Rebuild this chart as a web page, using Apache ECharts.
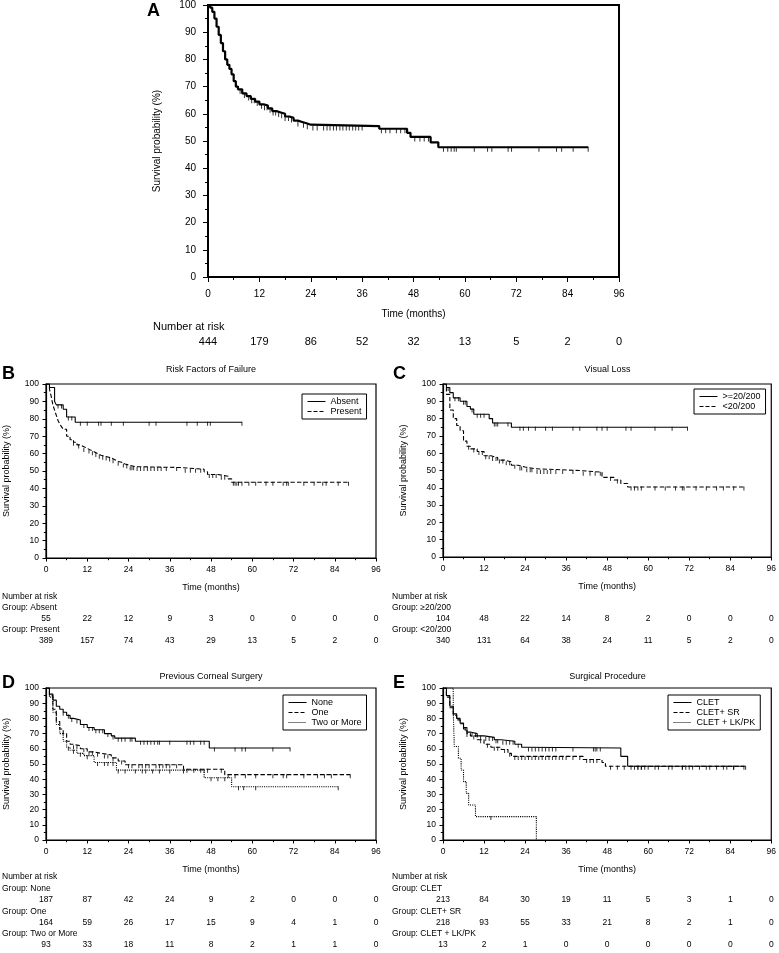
<!DOCTYPE html>
<html><head><meta charset="utf-8">
<script src="https://cdn.jsdelivr.net/npm/echarts@6/dist/echarts.min.js"></script>
<style>html,body{margin:0;padding:0;background:#fff}#c{width:779px;height:953px}</style>
</head><body><div id="c"></div>
<script>
// ---------- data ----------
const riskTimes = [0,12,24,36,48,60,72,84,96];

// Panel A: overall
const aT = [0,0.5,1,1.5,2,2.5,3,3.5,4,4.5,5,5.5,6,6.5,7,8,9,10,11,12,13,14,15,16,17,18,19,20,21,22,23,24,40,46.5,47.3,52,53.8,88.8];
const aS = [100,99,97.5,95,92,89,86,83,80,78,76.5,74.5,72,70,69,67.5,66.5,65.5,64.5,63.5,63,62,61,60.5,60,59,58.5,57.5,57,56.5,56,55.5,54.5,53,51.5,49.5,47.7,47.7];
const aC = [7.5,8.5,9.5,10.2,10.8,11.5,12.5,13.2,13.8,14.5,15.2,15.8,16.5,17.2,18,18.8,19.5,21,22.3,23.2,24.5,25.5,27,27.8,28.5,29.3,30,30.8,31.5,32.3,33,33.8,34.5,35.2,36,40.5,41.5,42.5,44,45,46,48.3,49.5,50.5,51.5,55,56,56.8,57.5,58,62.2,65.3,66.3,70.1,70.9,77.3,81.4,82.6,85.3,88.8];
const riskA = [444,179,86,52,32,13,5,2,0];

// Panel B: risk factors of failure
const bAbsT = [0,1,2.5,3,5,6,8.5,57];
const bAbsS = [100,98,90,88,85.5,81,78,78];
const bAbsC = [3.5,4.5,6.5,7.5,10,12,15.3,16,19,22.5,30,32,41,44,47,47.8,57];
const bPreT = [0,1,1.5,2,2.5,3,3.5,4,4.5,5,6,7,8,9,10,11,12,13,14,15,16,17,18,19,20,21,22,23,24,26,39,46,47,50,53,54,88];
const bPreS = [100,97,93,88,85,82,79,77,75.5,74,70,68,66.5,65,64,63,62,61,60,59,58.5,58,57.5,56.5,55.5,55,54,53.5,52.5,52,51,49.5,48,47,45.5,43.5,43.5];
const bPreC = [8,9.5,11,12.5,13.5,14.5,15.5,16.5,17.5,18.5,19.5,21,22.5,23.5,24.5,25,25.5,26.5,27.5,28.5,29.5,30.5,31.5,32.5,33.5,35,38,40.5,42,43.5,45,47.5,48.5,49.5,51,52,54.5,55,55.5,56,57,59,61,64,66,69,70,70.5,75,78,80.5,81.5,85,88];
const riskBAbs = [55,22,12,9,3,0,0,0,0];
const riskBPre = [389,157,74,43,29,13,5,2,0];

// Panel C: visual loss
const cHiT = [0,1,2,3,5,7,8,9,13.5,14.5,20,71.5];
const cHiS = [100,98,95,92,90,87,85.5,82.5,80,77.5,75,75];
const cHiC = [1.5,3.5,4.5,6,6.5,8.5,10,11,12,15,15.5,16,19,22.5,23.5,25,27,30,32,38,40,45,46.5,48,53.5,55,62,67,71.5];
const cLoT = [0,1,2,3,4,5,6,7,8,10,12,14,16,18,20,22,24,27,40,46.5,50,52,54,88];
const cLoS = [100,94,85,80,76,73,67,64,62.5,61,58.5,57.5,56,55,53,52,51,50,49,46,44.5,42.5,40.5,40.5];
const cLoC = [7.5,9,10.5,11.5,12.5,13.5,14.5,15.5,16.5,17.5,18.5,19.5,21,22.5,23,24.5,25.5,26,27.5,28.5,29.5,30.5,31.5,33,35,38,41,43,44.5,46,49,51,55,56,57,58,62,65,68,70,70.5,74,77,80,82,85,88];
const riskCHi = [104,48,22,14,8,2,0,0,0];
const riskCLo = [340,131,64,38,24,11,5,2,0];

// Panel D: previous corneal surgery
const dNoT = [0,1,2,3,4,5,6,7,8,10,12,14,17,19,20,26,47.5,71];
const dNoS = [100,96,92,88,86,84,82,80,79,76,74,72.5,70,68.5,67,65,60.5,60.5];
const dNoC = [5,6.5,7.5,9,11,12.5,13.5,14.5,15.5,16.5,18,19.5,21,22,23,24.5,25,27.5,28.5,29.5,30.5,31.5,32.5,33,36,41,42,43,45,46,49,55,57,58,66,71];
const dOnT = [0,1,2,3,4,5,6,7,8,10,12,14,16,19,21,23,40,52,88.5];
const dOnS = [100,95,86,78,73,70,65,63,62,60,58,57,56,54,52,49.5,46.5,43,43];
const dOnC = [8,9,11,12.5,13.5,15,17,18,19.5,22,24,25,27,28,29,30,32,33,34,35,36,38,41,43,45,46,47,51,53,55,58,61,66,69,70,75,79,81,83,88.5];
const dTwT = [0,1,2,3,4,5,6,7,9,11,14,20.5,46,54,85];
const dTwS = [100,94,84,76,70,65,61,59,57,55.5,51,46,41,35,35];
const dTwC = [6.5,8,10,12,15,17,18,19.5,21,23,26,28,29,31,33,36,40,48,50,52,56,57.5,61,85];
const riskDNo = [187,87,42,24,9,2,0,0,0];
const riskDOn = [164,59,26,17,15,9,4,1,0];
const riskDTw = [93,33,18,11,8,2,1,1,0];

// Panel E: surgical procedure
const eClT = [0,1,2,3,4,5,6,7,8,10,12,15,17,21,23,24,52,54,88];
const eClS = [100,95,88,83,80,77,74,71,70,68.5,67.5,66,65,63,61,60.5,55,48.5,48.5];
const eClC = [6.5,8.5,9.5,11,12.5,13.5,14.5,15.5,16,17.5,18.5,19.5,20.5,22,25,26,27,28,29,30,31,32,33,38,44,44.5,45,46,56,57,58,59,62,66,70,72,75,78,82,85,88];
const eSrT = [0,1,2,3,4,5,6,7,8,10,12,14,17,19,20,41,46.5,47.5,88.5];
const eSrS = [100,94,87,82,79,76.5,73,70,68.5,66,63,61,59.5,57,55,53,51,48.5,48.5];
const eSrC = [7,9,11,13,15,16,18,19.5,21,22,23,24,25,26,27,28,29,30,31,32,33,34,35,36,38,40,42,43,44,45,49,51,53,55,57,58,60,63,67,70,71,73,77,80,83,85,88.5];
const eLkT = [0,3,3.3,4.5,5.3,6,6.8,7.5,9.5,27.3];
const eLkS = [100,84.6,61.5,53.8,46.1,38.4,30.7,23,15.4,0];
const eLkC = [14];
const riskECl = [213,84,30,19,11,5,3,1,0];
const riskESr = [218,93,55,33,21,8,2,1,0];
const riskELk = [13,2,1,0,0,0,0,0,0];

// ---------- chart ----------
const FONT = '"Liberation Sans", Arial, sans-serif';
const panels = [
  {letter:'A', letterPos:[147,11], title:null, big:true,
   grid:{left:208, top:5, width:411, height:272},
   curves:[{name:'Overall', T:aT, S:aS, C:aC, type:'solid'}],
   legend:null,
   table:{x:153, narY:327, rows:[{label:null, y:null, vy:342, v:riskA}]}},
  {letter:'B', letterPos:[2,374], title:'Risk Factors of Failure', titleY:370,
   grid:{left:46, top:384, width:330, height:174},
   curves:[{name:'Absent', T:bAbsT, S:bAbsS, C:bAbsC, type:'solid'},
           {name:'Present', T:bPreT, S:bPreS, C:bPreC, type:'dashed'}],
   legend:{left:302, top:394},
   table:{x:2, narY:597, rows:[{label:'Group: Absent', y:608, vy:619, v:riskBAbs},{label:'Group: Present', y:630, vy:641, v:riskBPre}]}},
  {letter:'C', letterPos:[393,374], title:'Visual Loss', titleY:370,
   grid:{left:443, top:384, width:329, height:173},
   curves:[{name:'>=20/200', T:cHiT, S:cHiS, C:cHiC, type:'solid'},
           {name:'<20/200', T:cLoT, S:cLoS, C:cLoC, type:'dashed'}],
   legend:{left:694, top:389},
   table:{x:392, narY:597, rows:[{label:'Group: \u226520/200', y:608, vy:619, v:riskCHi},{label:'Group: <20/200', y:630, vy:641, v:riskCLo}]}},
  {letter:'D', letterPos:[2,683], title:'Previous Corneal Surgery', titleY:677,
   grid:{left:46, top:688, width:330, height:152},
   curves:[{name:'None', T:dNoT, S:dNoS, C:dNoC, type:'solid'},
           {name:'One', T:dOnT, S:dOnS, C:dOnC, type:'dashed'},
           {name:'Two or More', T:dTwT, S:dTwS, C:dTwC, type:'dotted'}],
   legend:{left:283, top:695},
   table:{x:2, narY:877, rows:[{label:'Group: None', y:889, vy:900, v:riskDNo},{label:'Group: One', y:912, vy:923, v:riskDOn},{label:'Group: Two or More', y:934, vy:945, v:riskDTw}]}},
  {letter:'E', letterPos:[393,683], title:'Surgical Procedure', titleY:677,
   grid:{left:443, top:688, width:329, height:152},
   curves:[{name:'CLET', T:eClT, S:eClS, C:eClC, type:'solid'},
           {name:'CLET+ SR', T:eSrT, S:eSrS, C:eSrC, type:'dashed'},
           {name:'CLET + LK/PK', T:eLkT, S:eLkS, C:eLkC, type:'dotted'}],
   legend:{left:668, top:695},
   table:{x:392, narY:877, rows:[{label:'Group: CLET', y:889, vy:900, v:riskECl},{label:'Group: CLET+ SR', y:912, vy:923, v:riskESr},{label:'Group: CLET + LK/PK', y:934, vy:945, v:riskELk}]}}
];

function survAt(T, S, t){ let v = S[0]; for (let i=0;i<T.length;i++){ if (T[i] <= t) v = S[i]; } return v; }

const grids=[], xAxes=[], yAxes=[], series=[], legends=[];
panels.forEach((p, i) => {
  const fs = p.big ? 10 : 8.5;
  const lw = p.big ? 2 : 1.2;
  grids.push(Object.assign({show:true, borderColor:'#000', borderWidth: p.big?2:1.2, backgroundColor:'transparent'}, p.grid));
  const axisCommon = {
    axisLine:{show:true, lineStyle:{color:'#000', width:lw}},
    axisTick:{show:true, length: p.big?5:3.5, lineStyle:{color:'#000', width:1}},
    minorTick:{show:true, splitNumber:2, length: p.big?3:2.2, lineStyle:{color:'#000', width:1}},
    splitLine:{show:false},
    axisLabel:{color:'#000', fontSize:fs, fontFamily:FONT},
    nameTextStyle:{color:'#000', fontSize: p.big?10:9, fontFamily:FONT}
  };
  xAxes.push(Object.assign({}, axisCommon, {type:'value', gridIndex:i, min:0, max:96, interval:12,
    name:'Time (months)', nameLocation:'middle', nameGap: p.big?32:25,
    axisLabel:Object.assign({}, axisCommon.axisLabel, {margin: p.big?12:7})}));
  yAxes.push(Object.assign({}, axisCommon, {type:'value', gridIndex:i, min:0, max:100, interval:10,
    name:'Survival probability (%)', nameLocation:'middle', nameGap: p.big?46:35,
    axisLabel:Object.assign({}, axisCommon.axisLabel, {margin: p.big?12:7})}));
  p.curves.forEach(c => {
    series.push({type:'line', name:c.name, xAxisIndex:i, yAxisIndex:i, step:'end',
      symbol:'none', showSymbol:false, animation:false,
      lineStyle:{color:'#000', width: p.big?2.2:1.1, type:c.type},
      itemStyle:{color:'#000'},
      data: c.T.map((t, k) => [t, c.S[k]]), z:3});
    series.push({type:'scatter', name:c.name+' censored', xAxisIndex:i, yAxisIndex:i,
      symbol:'rect', symbolSize: p.big?[1,5]:[1,4], symbolOffset:[0, p.big?2:1.5],
      itemStyle:{color:'#000'}, silent:true, animation:false,
      data: c.C.map(t => [t, survAt(c.T, c.S, t)]), z:4});
  });
  if (p.legend) {
    legends.push({left:p.legend.left, top:p.legend.top, orient:'vertical',
      data:p.curves.map(c=>c.name), borderColor:'#000', borderWidth:1,
      padding:[3,5,3,5], itemGap:1, itemWidth:18, itemHeight:10,
      itemStyle:{color:'transparent', borderColor:'transparent', borderWidth:0, opacity:0},
      lineStyle:{width:1},
      textStyle:{color:'#000', fontSize:9, fontFamily:FONT}, selectedMode:false});
  }
});

const chart = echarts.init(document.getElementById('c'), null, {renderer:'canvas'});
chart.setOption({animation:false, backgroundColor:'#fff', grid:grids, xAxis:xAxes, yAxis:yAxes, series:series, legend:legends});

// graphics: letters, titles, number-at-risk tables
const g = [];
function txt(x, y, text, opt){
  opt = opt || {};
  g.push({type:'text', x:x, y:y, silent:true, style:{text:text, fill:'#000',
    font: (opt.bold?'bold ':'') + (opt.size||9) + 'px ' + FONT,
    textAlign: opt.align||'left', textVerticalAlign:'middle', align: opt.align||'left', verticalAlign:'middle'}});
}
panels.forEach((p, i) => {
  txt(p.letterPos[0], p.letterPos[1], p.letter, {bold:true, size:18});
  if (p.title) txt(p.grid.left + p.grid.width/2, p.titleY, p.title, {align:'center', size:9});
  const tsz = p.big ? 11 : 8.5;
  txt(p.table.x, p.table.narY, 'Number at risk', {size:tsz});
  p.table.rows.forEach(r => {
    if (r.label) txt(p.table.x, r.y, r.label, {size:tsz});
    r.v.forEach((val, k) => {
      const px = chart.convertToPixel({xAxisIndex:i}, riskTimes[k]);
      txt(px, r.vy, String(val), {align:'center', size:tsz});
    });
  });
});
chart.setOption({graphic:g});
</script></body></html>
